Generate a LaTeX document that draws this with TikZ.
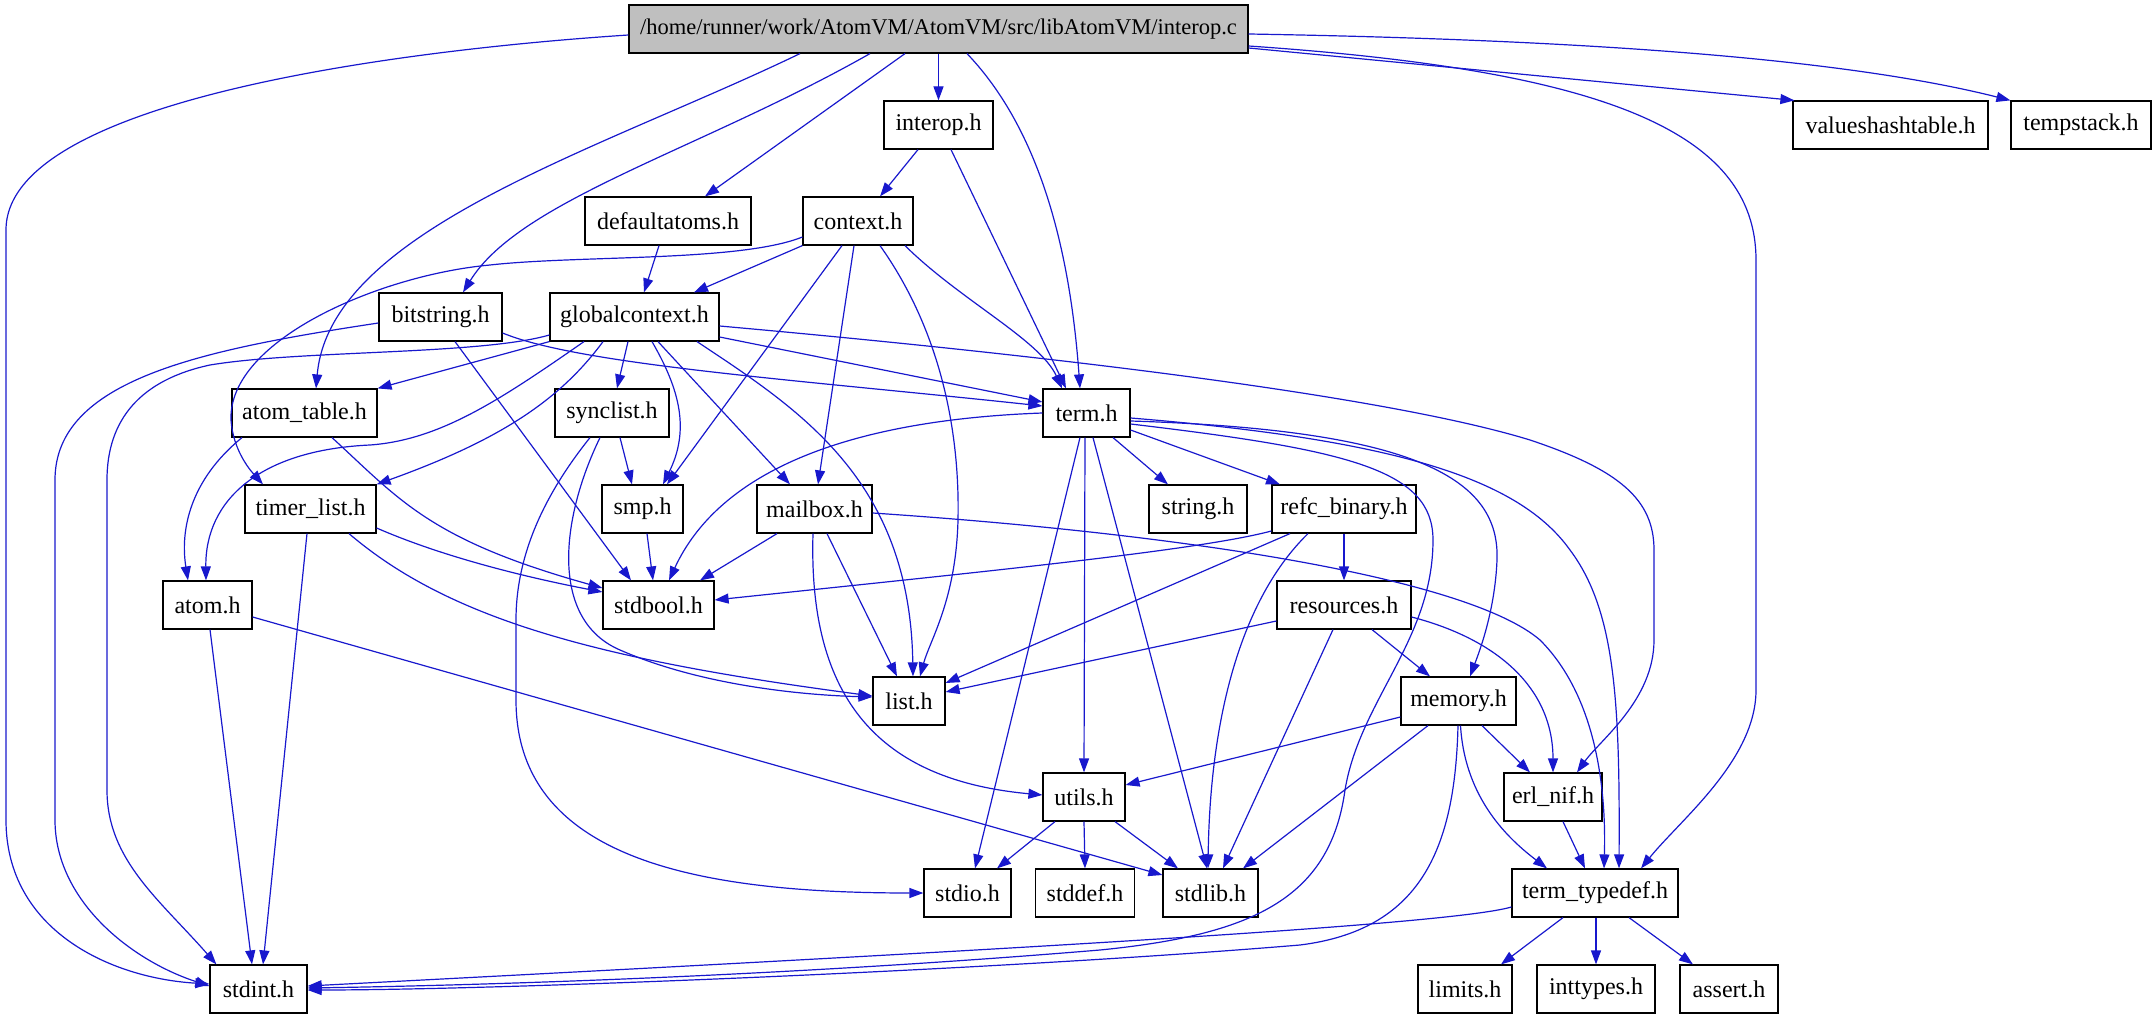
\documentclass[tikz,border=0pt]{standalone}
\usepackage{fontspec}
\setmainfont{Liberation Serif}
\usetikzlibrary{arrows.meta,calc}
\definecolor{edgeblue}{RGB}{24,24,205}
\definecolor{rootgray}{RGB}{191,191,191}
\begin{document}
\begin{tikzpicture}[x=1pt,y=-1pt,
  box/.style={draw=black, line width=1.2pt, fill=white, minimum height=48pt, inner xsep=2pt, inner ysep=0pt, font=\fontsize{24}{28}\selectfont},
  e/.style={draw=edgeblue, line width=1.2pt, -{Triangle[length=14pt,width=10pt]}}]
\useasboundingbox (0,0) rectangle (2156,1019);
% nodes
\node[box, fill=rootgray, minimum width=619pt, font=\fontsize{22.5}{27}\selectfont] (ic) at (938.5,29) {/home/runner/work/AtomVM/AtomVM/src/libAtomVM/interop.c};
\node[box, minimum width=109pt] (ih) at (938.5,125) {interop.h};
\node[box, minimum width=195pt] (vh) at (1890.5,125) {valueshashtable.h};
\node[box, minimum width=140pt] (ts) at (2081,125) {tempstack.h};
\node[box, minimum width=166pt] (da) at (668,221) {defaultatoms.h};
\node[box, minimum width=110pt] (ctx) at (858,221) {context.h};
\node[box, minimum width=123pt] (bs) at (440.5,317) {bitstring.h};
\node[box, minimum width=169pt] (gc) at (634.5,317) {globalcontext.h};
\node[box, minimum width=145pt] (at) at (304.5,413) {atom\_table.h};
\node[box, minimum width=114pt] (sl) at (612,413) {synclist.h};
\node[box, minimum width=87pt] (tm) at (1086.5,413) {term.h};
\node[box, minimum width=131pt] (tl) at (310.5,509) {timer\_list.h};
\node[box, minimum width=81pt] (smp) at (642.5,509) {smp.h};
\node[box, minimum width=115pt] (mb) at (814.5,509) {mailbox.h};
\node[box, minimum width=98pt] (str) at (1198,509) {string.h};
\node[box, minimum width=144pt] (rb) at (1344,509) {refc\_binary.h};
\node[box, minimum width=89pt] (atm) at (207.5,605) {atom.h};
\node[box, minimum width=111pt] (sb) at (658.5,605) {stdbool.h};
\node[box, minimum width=134pt] (res) at (1344,605) {resources.h};
\node[box, minimum width=72pt] (lst) at (909,701) {list.h};
\node[box, minimum width=115pt] (mem) at (1458.5,701) {memory.h};
\node[box, minimum width=82pt] (ut) at (1084,797) {utils.h};
\node[box, minimum width=98pt] (en) at (1553,797) {erl\_nif.h};
\node[box, minimum width=87pt] (sio) at (967.5,893) {stdio.h};
\node[box, minimum width=99pt] (sdf) at (1085,893) {stddef.h};
\node[box, minimum width=95pt] (slb) at (1210.5,893) {stdlib.h};
\node[box, minimum width=166pt] (tt) at (1595,893) {term\_typedef.h};
\node[box, minimum width=97pt] (sint) at (258.5,989) {stdint.h};
\node[box, minimum width=94pt] (lim) at (1465,989) {limits.h};
\node[box, minimum width=118pt] (itt) at (1596,989) {inttypes.h};
\node[box, minimum width=98pt] (ast) at (1729,989) {assert.h};
% edges from interop.c
\draw[e] ($(ic.west)+(0,6)$) .. controls (400,50) and (6,100) .. (6,230) -- (6,820) .. controls (6,930) and (110,978) .. ($(sint.west)+(0,-5)$);
\draw[e] ($(ic.south)+(-138.5,0)$) .. controls (600,150) and (330,230) .. ($(at.north)+(11.5,0)$);
\draw[e] ($(ic.south)+(-68.5,0)$) .. controls (700,150) and (520,200) .. ($(bs.north)+(22.5,0)$);
\draw[e] ($(ic.south)+(-33.5,0)$) -- ($(da.north)+(37,0)$);
\draw[e] (ic.south) -- (ih.north);
\draw[e] ($(ic.south)+(28.5,0)$) .. controls (1040,130) and (1070,250) .. ($(tm.north)+(-6.5,0)$);
\draw[e] ($(ic.east)+(0,17)$) .. controls (1600,70) and (1756,130) .. (1756,260) -- (1756,690) .. controls (1756,760) and (1680,820) .. ($(tt.north)+(46,0)$);
\draw[e] ($(ic.east)+(0,19)$) -- ($(vh.north west)+(2,0)$);
\draw[e] ($(ic.east)+(0,5)$) .. controls (1600,40) and (1850,60) .. (ts.north west);
% interop.h
\draw[e] ($(ih.south)+(-20.5,0)$) -- ($(ctx.north)+(22,0)$);
\draw[e] ($(ih.south)+(12.5,0)$) -- ($(tm.north)+(-20.5,0)$);
% defaultatoms
\draw[e] ($(da.south)+(-9,0)$) -- ($(gc.north)+(9.5,0)$);
% context
\draw[e] (ctx.south west) -- ($(gc.north)+(59.5,0)$);
\draw[e] ($(ctx.west)+(0,16)$) .. controls (740,262) and (580,255) .. (490,265) .. controls (380,275) and (228,340) .. (231,420) .. controls (233,450) and (250,470) .. ($(tl.north)+(-47.5,0)$);
\draw[e] ($(ctx.south)+(-16,0)$) -- ($(smp.north)+(24.5,0)$);
\draw[e] ($(ctx.south)+(-4,0)$) -- ($(mb.north)+(3.5,0)$);
\draw[e] ($(ctx.south)+(22,0)$) .. controls (940,330) and (960,430) .. (958,520) .. controls (956,600) and (930,640) .. ($(lst.north)+(11,0)$);
\draw[e] ($(ctx.south)+(47,0)$) .. controls (960,300) and (1040,340) .. ($(tm.north)+(-24.5,0)$);
% bitstring
\draw[e] ($(bs.west)+(0,6)$) .. controls (200,350) and (55,380) .. (55,480) -- (55,820) .. controls (55,900) and (130,960) .. ($(sint.west)+(0,-3)$);
\draw[e] ($(bs.east)+(0,16)$) .. controls (580,365) and (800,380) .. ($(tm.west)+(0,-7)$);
\draw[e] ($(bs.south)+(14.5,0)$) -- ($(sb.north)+(-27.5,0)$);
% globalcontext
\draw[e] ($(gc.west)+(0,18)$) .. controls (480,355) and (300,350) .. (210,365) .. controls (140,380) and (107,420) .. (107,480) -- (107,790) .. controls (107,860) and (160,900) .. ($(sint.north west)+(7,0)$);
\draw[e] (gc.south west) -- (at.north east);
\draw[e] ($(gc.south)+(-50.5,0)$) .. controls (500,400) and (440,440) .. (370,445) .. controls (260,450) and (205,500) .. ($(atm.north)+(-1.5,0)$);
\draw[e] ($(gc.south)+(-31.5,0)$) .. controls (560,400) and (500,440) .. (tl.north east);
\draw[e] ($(gc.south)+(-6.5,0)$) -- ($(sl.north)+(5,0)$);
\draw[e] ($(gc.south)+(17.5,0)$) .. controls (680,390) and (690,430) .. ($(smp.north)+(20.5,0)$);
\draw[e] ($(gc.south)+(23.5,0)$) -- ($(mb.north)+(-24.5,0)$);
\draw[e] ($(gc.south)+(62.5,0)$) .. controls (800,410) and (910,480) .. ($(lst.north)+(4,0)$);
\draw[e] ($(gc.east)+(0,20)$) -- ($(tm.west)+(0,-11)$);
\draw[e] ($(gc.east)+(0,9)$) .. controls (1100,360) and (1400,400) .. (1530,440) .. controls (1620,470) and (1654,500) .. (1654,550) -- (1654,640) .. controls (1654,700) and (1600,740) .. ($(en.north)+(24,0)$);
% atom_table
\draw[e] ($(at.south)+(-62.5,0)$) .. controls (190,480) and (180,530) .. ($(atm.north)+(-19.5,0)$);
\draw[e] ($(at.south)+(27.5,0)$) .. controls (400,500) and (430,540) .. ($(sb.west)+(0,-17)$);
% synclist
\draw[e] ($(sl.south)+(8,0)$) -- ($(smp.north)+(-10.5,0)$);
\draw[e] ($(sl.south)+(-12,0)$) .. controls (560,520) and (550,620) .. (620,650) .. controls (700,685) and (800,695) .. ($(lst.west)+(0,-4)$);
\draw[e] ($(sl.south)+(-22,0)$) .. controls (540,500) and (516,560) .. (516,620) -- (516,700) .. controls (516,860) and (700,893) .. (sio.west);
% timer_list
\draw[e] ($(tl.south)+(-3.5,0)$) -- ($(sint.north)+(4.5,0)$);
\draw[e] ($(tl.east)+(0,19)$) .. controls (450,560) and (540,580) .. ($(sb.west)+(0,-13)$);
\draw[e] ($(tl.south)+(38.5,0)$) .. controls (450,620) and (600,660) .. ($(lst.west)+(0,-5)$);
% smp
\draw[e] ($(smp.south)+(4.5,0)$) -- ($(sb.north)+(-5.5,0)$);
% mailbox
\draw[e] ($(mb.south)+(-37.5,0)$) -- ($(sb.north)+(41.5,0)$);
\draw[e] ($(mb.south)+(12.5,0)$) -- ($(lst.north)+(-12,0)$);
\draw[e] ($(mb.south)+(-1.5,0)$) .. controls (808,700) and (880,780) .. ($(ut.west)+(0,-2)$);
\draw[e] ($(mb.east)+(0,4)$) .. controls (1200,535) and (1470,580) .. (1540,640) .. controls (1600,700) and (1606,800) .. ($(tt.north)+(9,0)$);
% atom
\draw[e] ($(atm.south)+(2.5,0)$) -- ($(sint.north)+(-6.5,0)$);
\draw[e] ($(atm.east)+(0,12)$) -- ($(slb.west)+(0,-18)$);
% term
\draw[e] (tm.west) .. controls (850,420) and (720,470) .. ($(sb.north)+(10.5,0)$);
\draw[e] ($(tm.south)+(26.5,0)$) -- ($(str.north)+(-30,0)$);
\draw[e] ($(tm.east)+(0,17)$) -- ($(rb.north)+(-64,0)$);
\draw[e] ($(tm.south)+(-6.5,0)$) -- ($(sio.north)+(7.5,0)$);
\draw[e] ($(tm.south)+(-1.5,0)$) -- (ut.north);
\draw[e] ($(tm.south)+(6.5,0)$) -- ($(slb.north)+(-3.5,0)$);
\draw[e] ($(tm.east)+(0,11)$) .. controls (1350,450) and (1433,470) .. (1433,540) .. controls (1433,640) and (1360,700) .. (1345,790) .. controls (1330,900) and (1250,935) .. (1100,950) .. controls (800,975) and (500,985) .. ($(sint.east)+(0,-1)$);
\draw[e] ($(tm.east)+(0,8)$) .. controls (1420,430) and (1500,480) .. (1497,560) .. controls (1495,610) and (1480,650) .. ($(mem.north)+(11.5,0)$);
\draw[e] ($(tm.east)+(0,5)$) .. controls (1400,440) and (1520,480) .. (1570,550) .. controls (1615,610) and (1620,700) .. ($(tt.north)+(24,0)$);
% refc_binary
\draw[e] ($(rb.west)+(0,22)$) .. controls (1200,550) and (1000,570) .. ($(sb.east)+(0,-5)$);
\draw[e] ($(rb.south)+(-54,0)$) -- ($(lst.east)+(0,-18)$);
\draw[e] ($(rb.south)+(-36,0)$) .. controls (1240,600) and (1210,720) .. ($(slb.north)+(-2.5,0)$);
\draw[e] (rb.south) -- (res.north);
% resources
\draw[e] ($(res.west)+(0,16)$) -- ($(lst.east)+(0,-9)$);
\draw[e] ($(res.south)+(-11,0)$) -- ($(slb.north)+(12.5,0)$);
\draw[e] ($(res.south)+(28,0)$) -- ($(mem.north)+(-28.5,0)$);
\draw[e] ($(res.east)+(0,12)$) .. controls (1500,640) and (1553,690) .. (en.north);
% memory
\draw[e] ($(mem.west)+(0,16)$) -- ($(ut.east)+(0,-12)$);
\draw[e] ($(mem.south)+(-30.5,0)$) -- ($(slb.north)+(32.5,0)$);
\draw[e] ($(mem.south)+(-0.5,0)$) .. controls (1455,850) and (1420,930) .. (1300,945) .. controls (1000,970) and (500,990) .. ($(sint.east)+(0,1)$);
\draw[e] ($(mem.south)+(2,0)$) .. controls (1465,800) and (1510,840) .. ($(tt.north)+(-48,0)$);
\draw[e] ($(mem.south)+(23.5,0)$) -- ($(en.north)+(-23,0)$);
% utils
\draw[e] ($(ut.south)+(-29,0)$) -- ($(sio.north)+(29.5,0)$);
\draw[e] (ut.south) -- (sdf.north);
\draw[e] ($(ut.south)+(31,0)$) -- ($(slb.north)+(-32.5,0)$);
% erl_nif
\draw[e] ($(en.south)+(10,0)$) -- ($(tt.north)+(-10,0)$);
% term_typedef
\draw[e] ($(tt.west)+(0,14)$) .. controls (1450,925) and (1000,950) .. ($(sint.east)+(0,-3)$);
\draw[e] ($(tt.south)+(-32,0)$) -- ($(lim.north)+(36,0)$);
\draw[e] ($(tt.south)+(1,0)$) -- (itt.north);
\draw[e] ($(tt.south)+(34,0)$) -- ($(ast.north)+(-36,0)$);
\end{tikzpicture}
\end{document}
